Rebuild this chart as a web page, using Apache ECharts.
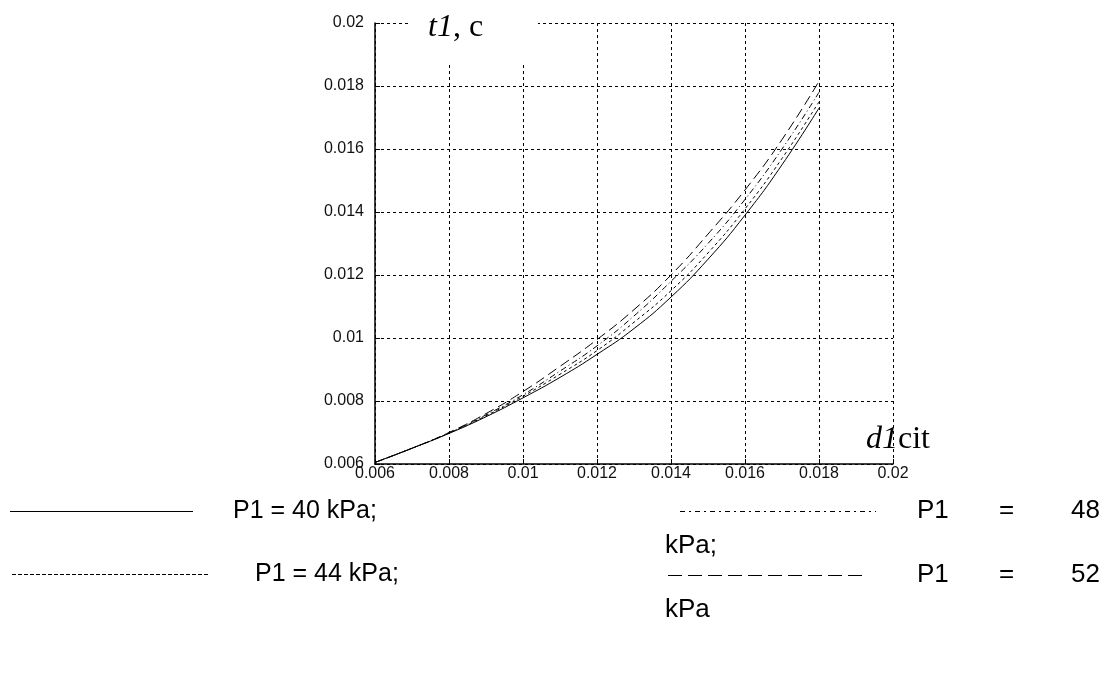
<!DOCTYPE html>
<html>
<head>
<meta charset="utf-8">
<script src="https://cdn.jsdelivr.net/npm/echarts@6/dist/echarts.min.js"></script>
<style>
  html, body { margin: 0; padding: 0; background: #fff; }
  #chart { width: 1109px; height: 684px; }
</style>
</head>
<body>
<div id="chart"></div>
<script>
// d1cit values (x) and t1 for each pressure
var d1 = [0.006, 0.007, 0.008, 0.009, 0.010, 0.011, 0.012, 0.013, 0.014, 0.015, 0.016, 0.017, 0.018];
var t1_40 = [0.00605, 0.0065, 0.00697, 0.0075, 0.0081, 0.00875, 0.00948, 0.0103, 0.0113, 0.0125, 0.0139, 0.0155, 0.0173];
var t1_44 = [0.00605, 0.0065, 0.00698, 0.00753, 0.00815, 0.00885, 0.0096, 0.0105, 0.0115, 0.0127, 0.0141, 0.0157, 0.0175];
var t1_48 = [0.00605, 0.0065, 0.00699, 0.00756, 0.0082, 0.00895, 0.00975, 0.0107, 0.0118, 0.0130, 0.0144, 0.0160, 0.0178];
var t1_52 = [0.00605, 0.0065, 0.0070, 0.0076, 0.0083, 0.0091, 0.00995, 0.0109, 0.0120, 0.0133, 0.0147, 0.0163, 0.01815];

var pressures = ['P1 = 40 kPa', 'P1 = 44 kPa', 'P1 = 48 kPa', 'P1 = 52 kPa'];

function pairs(ys) {
    return d1.map(function (x, i) { return [x, ys[i]]; });
}

function curve(name, ys, dash) {
    return {
        name: name,
        type: 'line',
        data: pairs(ys),
        smooth: true,
        symbol: 'none',
        lineStyle: { color: '#000', width: 1, type: dash }
    };
}

var chart = echarts.init(document.getElementById('chart'));

var gridDash = { color: '#000', width: 1, type: [3, 3] };
var tickFont = { fontFamily: 'Liberation Sans, Arial', fontSize: 16, color: '#111' };
var legendFont = '25px Liberation Sans';
var rightFont = '26px Liberation Sans';

function label(x, y, text, font, align) {
    return {
        type: 'text', x: x, y: y,
        style: { text: text, font: font, fill: '#000', verticalAlign: 'middle', align: align || 'left' }
    };
}

function sample(x1, x2, y, dash) {
    return {
        type: 'line',
        shape: { x1: x1, y1: y + 0.5, x2: x2, y2: y + 0.5 },
        style: { stroke: '#000', lineWidth: 1, lineDash: dash }
    };
}

var axisName = {
    i: { fontFamily: 'Liberation Serif', fontStyle: 'italic', fontSize: 32, fill: '#000' },
    n: { fontFamily: 'Liberation Serif', fontSize: 32, fill: '#000' }
};

var option = {
    backgroundColor: '#fff',
    animation: false,
    grid: { left: 375, right: 216, top: 23, bottom: 220 },
    xAxis: {
        type: 'value',
        min: 0.006,
        max: 0.02,
        interval: 0.002,
        axisLine: { show: true, onZero: false, lineStyle: { color: '#000', width: 1.5 } },
        axisTick: { show: true, inside: true, length: 5, lineStyle: { color: '#000' } },
        axisLabel: Object.assign({ margin: 2 }, tickFont),
        splitLine: { show: true, lineStyle: gridDash }
    },
    yAxis: {
        type: 'value',
        min: 0.006,
        max: 0.02,
        interval: 0.002,
        axisLine: { show: true, onZero: false, lineStyle: { color: '#000', width: 1.5 } },
        axisTick: { show: true, inside: true, length: 5, lineStyle: { color: '#000' } },
        axisLabel: Object.assign({ margin: 11 }, tickFont),
        splitLine: { show: true, lineStyle: gridDash }
    },
    series: [
        curve(pressures[0], t1_40, 'solid'),
        curve(pressures[1], t1_44, [3, 3]),
        curve(pressures[2], t1_48, [6, 3, 1, 3]),
        curve(pressures[3], t1_52, [10, 5])
    ],
    graphic: [
        // axis names, with a white box over the grid for t1
        { type: 'rect', shape: { x: 408, y: 8, width: 130, height: 55 }, style: { fill: '#fff' }, z: 10 },
        { type: 'text', x: 428, y: 44, z: 11, style: { text: '{i|t1}{n|, c}', verticalAlign: 'bottom', rich: axisName } },
        { type: 'text', x: 866, y: 456, z: 11, style: { text: '{i|d1}{n|cit}', verticalAlign: 'bottom', rich: axisName } },
        // legend
        sample(10, 193, 511, null),
        label(233, 511, 'P1 = 40 kPa;', legendFont),
        sample(12, 208, 574, [4, 2]),
        label(255, 574, 'P1 = 44 kPa;', legendFont),
        sample(680, 876, 511, [5, 4, 2, 4]),
        label(917, 511, 'P1', rightFont),
        label(999, 511, '=', rightFont),
        label(1100, 511, '48', rightFont, 'right'),
        label(665, 546, 'kPa;', rightFont),
        sample(668, 862, 575, [14, 6]),
        label(917, 575, 'P1', rightFont),
        label(999, 575, '=', rightFont),
        label(1100, 575, '52', rightFont, 'right'),
        label(665, 610, 'kPa', rightFont)
    ]
};

chart.setOption(option);

window.addEventListener('resize', function () {
    chart.resize();
});
</script>
</body>
</html>
